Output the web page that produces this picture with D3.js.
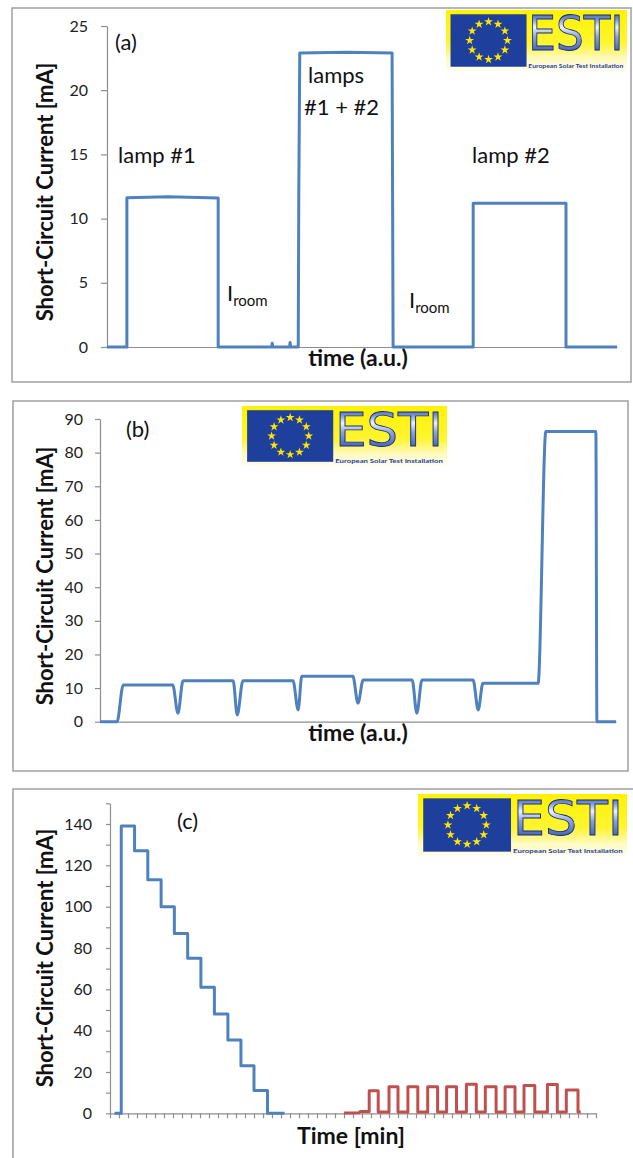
<!DOCTYPE html>
<html>
<head>
<meta charset="utf-8">
<script src="https://cdn.jsdelivr.net/npm/d3@7"></script>
<style>
  body { margin: 0; background: #fff; }
  text { font-family: Lato, "Open Sans", sans-serif; }
</style>
</head>
<body>
<script>
// panel (a): lamps switched on / off
const aTime    = [0, 3.9, 3.9, 12, 21.8, 21.8, 32.3, 32.4, 32.5, 35.8, 35.9, 36.0, 37.5, 37.6, 37.8, 47, 55.9, 56.0, 56.1, 71.8, 71.8, 90.0, 90.0, 100];
const aCurrent = [0, 0, 11.62, 11.7, 11.6, 0, 0, 0.3, 0, 0, 0.35, 0, 0, 11.6, 22.9, 22.95, 22.9, 11.5, 0, 0, 11.2, 11.2, 0, 0];

// panel (b): repeated measurements with short dips
const bTime    = [0, 3.3, 4.5, 14.1, 15.1, 16.1, 25.8, 26.6, 27.7, 37.4, 38.4, 39.1, 49.0, 50.0, 51.0, 60.5, 61.4, 62.4, 72.3, 73.3, 74.2, 84.9, 86.4, 96.1, 96.3, 100];
const bCurrent = [0, 0, 10.9, 10.9, 2.5, 12.2, 12.2, 2.0, 12.2, 12.2, 3.5, 13.5, 13.5, 5.5, 12.4, 12.4, 2.5, 12.4, 12.4, 3.5, 11.4, 11.4, 86.3, 86.3, 0, 0];

// panel (c): blue staircase
const cBlueTime    = [0.5, 1.25, 1.25, 2.73, 2.73, 4.2, 4.2, 5.68, 5.68, 7.15, 7.15, 8.63, 8.63, 10.1, 10.1, 11.6, 11.6, 13.1, 13.1, 14.55, 14.55, 16.0, 16.0, 17.5, 17.5, 19.4];
const cBlueCurrent = [0, 0, 139, 139, 127, 127, 113, 113, 100, 100, 87, 87, 75, 75, 61, 61, 48, 48, 35.5, 35.5, 23, 23, 11, 11, 0, 0];

// panel (c): red pulses
const cRedTime    = [26.0, 27.7, 27.8, 28.8, 28.8, 29.8, 29.8, 31.0, 31.0, 32.0, 32.0, 33.1, 33.1, 34.2, 34.2, 35.3, 35.3, 36.4, 36.4, 37.4, 37.4, 38.5, 38.5, 39.6, 39.6, 40.7, 40.7, 41.7, 41.7, 42.9, 42.9, 43.9, 43.9, 45.0, 45.0, 46.0, 46.0, 47.2, 47.2, 48.6, 48.6, 49.7, 49.7, 50.7, 50.7, 52.0, 52.0, 52.3];
const cRedCurrent = [0.2, 0.3, 0.9, 0.9, 10.9, 10.9, 0.6, 0.6, 12.9, 12.9, 0.6, 0.6, 12.9, 12.9, 0.6, 0.6, 12.9, 12.9, 0.6, 0.6, 12.9, 12.9, 0.6, 0.6, 14.0, 14.0, 0.6, 0.6, 12.9, 12.9, 0.6, 0.6, 12.9, 12.9, 0.6, 0.6, 13.5, 13.5, 0.6, 0.6, 13.9, 13.9, 0.6, 0.6, 11.3, 11.3, 0.6, 0.6];

const aTicks = [0, 5, 10, 15, 20, 25];
const bTicks = [0, 10, 20, 30, 40, 50, 60, 70, 80, 90];
const cTicks = [0, 10, 20, 30, 40, 50, 60, 70, 80, 90, 100, 110, 120, 130, 140, 150];
const cTimeTicks = d3.range(0, 55);

const blue = "#4F81BD";
const red  = "#C0504D";
const axisGrey = "#8E8E8E";

const svg = d3.select("body").append("svg")
              .attr("width", 633)
              .attr("height", 1158);

const defs = svg.append("defs");
const yel = defs.append("linearGradient").attr("id", "yel").attr("x1", 0).attr("y1", 0).attr("x2", 0).attr("y2", 1);
yel.append("stop").attr("offset", "0%").attr("stop-color", "#FFF200");
yel.append("stop").attr("offset", "55%").attr("stop-color", "#FFF530");
yel.append("stop").attr("offset", "80%").attr("stop-color", "#FFFAC0");
yel.append("stop").attr("offset", "100%").attr("stop-color", "#FFFDF0");
const esti = defs.append("linearGradient").attr("id", "esti").attr("x1", 0).attr("y1", 0).attr("x2", 0).attr("y2", 1);
esti.append("stop").attr("offset", "0%").attr("stop-color", "#1E3FA0");
esti.append("stop").attr("offset", "22%").attr("stop-color", "#6F8CD0");
esti.append("stop").attr("offset", "38%").attr("stop-color", "#F0F3FA");
esti.append("stop").attr("offset", "55%").attr("stop-color", "#8CA3DC");
esti.append("stop").attr("offset", "100%").attr("stop-color", "#1A3A9A");

function drawLogo(lx, ly, w, h) {
  const g = svg.append("g").attr("transform", `translate(${lx},${ly})`);
  g.append("rect").attr("width", w).attr("height", h).attr("fill", "url(#yel)");
  const bx = 0.025 * w, by = 0.07 * h, bw = 0.42 * w, bh = 0.86 * h;
  g.append("rect").attr("x", bx).attr("y", by).attr("width", bw).attr("height", bh).attr("fill", "#1E3F9B");
  const cx = bx + bw / 2, cy = by + bh / 2, r = bh * 0.36;
  const star = d3.symbol().type(d3.symbolStar).size(h * 0.4);
  g.selectAll("path.star")
   .data(d3.range(12))
   .join("path")
   .attr("class", "star")
   .attr("d", star)
   .attr("fill", "#FFE500")
   .attr("transform", i => {
     const a = i * Math.PI / 6;
     return `translate(${cx + r * Math.sin(a)},${cy - r * Math.cos(a)})`;
   });
  g.append("text")
   .attr("x", 0.455 * w).attr("y", 0.66 * h)
   .attr("textLength", 0.525 * w).attr("lengthAdjust", "spacingAndGlyphs")
   .style("font-family", "'Liberation Sans Narrow', 'DejaVu Sans Condensed', sans-serif")
   .style("font-size", (0.78 * h) + "px")
   .attr("fill", "url(#esti)")
   .attr("stroke", "#142C78").attr("stroke-width", 0.8)
   .text("ESTI");
  g.append("text")
   .attr("x", 0.455 * w).attr("y", 0.95 * h)
   .attr("textLength", 0.525 * w).attr("lengthAdjust", "spacingAndGlyphs")
   .style("font-size", "5.5px").style("font-weight", "bold")
   .attr("fill", "#1E3F9B")
   .text("European Solar Test Installation");
}

function drawPanel(p) {
  const g = svg.append("g");
  g.append("rect")
   .attr("x", p.frame[0]).attr("y", p.frame[1])
   .attr("width", p.frame[2]).attr("height", p.frame[3])
   .attr("fill", "#fff").attr("stroke", "#A0A0A0").attr("stroke-width", 1.5);

  const x = d3.scaleLinear().domain(p.xDomain).range(p.xRange);
  const y = d3.scaleLinear().domain(p.yDomain).range(p.yRange);

  const yAxis = d3.axisLeft(y)
                  .tickValues(p.yTicks)
                  .tickSize(p.tickSize)
                  .tickSizeOuter(0)
                  .tickPadding(p.tickPad)
                  .tickFormat(p.yFormat || (d => d));
  const gy = g.append("g")
              .attr("transform", `translate(${p.xRange[0]},0)`)
              .call(yAxis);

  const xAxis = d3.axisBottom(x)
                  .tickValues(p.xTicks || [])
                  .tickSize(5)
                  .tickSizeOuter(0)
                  .tickFormat("");
  const gx = g.append("g")
              .attr("transform", `translate(0,${p.yRange[0]})`)
              .call(xAxis);

  [gx, gy].forEach(a => {
    a.selectAll("path, line").attr("stroke", axisGrey).attr("stroke-width", 1.2);
    a.selectAll("text").style("font-size", "16px").attr("fill", "#222")
     .style("font-family", "Lato, sans-serif");
  });

  g.append("text")
   .attr("transform", `translate(${p.yTitle[0]},${p.yTitle[1]}) rotate(-90)`)
   .attr("text-anchor", "middle")
   .style("font-size", "22px").style("font-weight", "bold").attr("fill", "#111")
   .text("Short-Circuit Current [mA]");

  g.append("text")
   .attr("x", p.xTitle[0]).attr("y", p.xTitle[1])
   .attr("text-anchor", "middle")
   .style("font-size", "23px").style("font-weight", "bold").attr("fill", "#111")
   .text(p.xLabel);

  p.series.forEach(s => {
    const line = d3.line()
                   .x(d => x(d[0]))
                   .y(d => y(d[1]))
                   .curve(s.curve || d3.curveLinear);
    g.append("path")
     .datum(d3.zip(s.t, s.v))
     .attr("d", line)
     .attr("fill", "none")
     .attr("stroke", s.color)
     .attr("stroke-width", 3)
     .attr("stroke-linejoin", "round");
  });

  p.notes.forEach(n => {
    const t = g.append("text")
               .attr("x", n.x).attr("y", n.y)
               .style("font-size", "22px").attr("fill", "#111");
    if (n.sub) {
      t.append("tspan").text(n.text);
      t.append("tspan").attr("dy", 5).style("font-size", "15px").text(n.sub);
    } else {
      t.text(n.text);
    }
  });

  drawLogo(...p.logo);
}

drawPanel({
  frame: [12, 8, 619, 374],
  xDomain: [0, 100], xRange: [107, 617],
  yDomain: [0, 25], yRange: [347, 26],
  yTicks: aTicks, tickSize: 6, tickPad: 13,
  yTitle: [53, 192], xTitle: [358, 366], xLabel: "time (a.u.)",
  series: [{ t: aTime, v: aCurrent, color: blue }],
  notes: [
    { x: 115, y: 50, text: "(a)" },
    { x: 118, y: 163, text: "lamp #1" },
    { x: 308, y: 83, text: "lamps" },
    { x: 304, y: 115, text: "#1 + #2" },
    { x: 227, y: 301, text: "I", sub: "room" },
    { x: 409, y: 308, text: "I", sub: "room" },
    { x: 472, y: 163, text: "lamp #2" }
  ],
  logo: [446, 10, 181, 61]
});

drawPanel({
  frame: [13, 401, 615, 370],
  xDomain: [0, 100], xRange: [100, 616],
  yDomain: [0, 90], yRange: [721.7, 419],
  yTicks: bTicks, tickSize: 5, tickPad: 12,
  yTitle: [53, 576], xTitle: [358, 741], xLabel: "time (a.u.)",
  series: [{ t: bTime, v: bCurrent, color: blue, curve: d3.curveMonotoneX }],
  notes: [{ x: 126, y: 437, text: "(b)" }],
  logo: [242, 406, 205, 60]
});

drawPanel({
  frame: [13, 789, 622, 375],
  xDomain: [0, 54], xRange: [110, 596],
  yDomain: [0, 150], yRange: [1113.3, 803.3],
  yTicks: cTicks, tickSize: 4, tickPad: 14,
  yFormat: d => (d % 20 === 0 ? d : ""),
  xTicks: cTimeTicks,
  yTitle: [53, 958], xTitle: [351, 1144], xLabel: "Time [min]",
  series: [
    { t: cBlueTime, v: cBlueCurrent, color: blue },
    { t: cRedTime, v: cRedCurrent, color: red }
  ],
  notes: [{ x: 177, y: 829, text: "(c)" }],
  logo: [418, 794, 209, 62]
});
</script>
</body>
</html>
